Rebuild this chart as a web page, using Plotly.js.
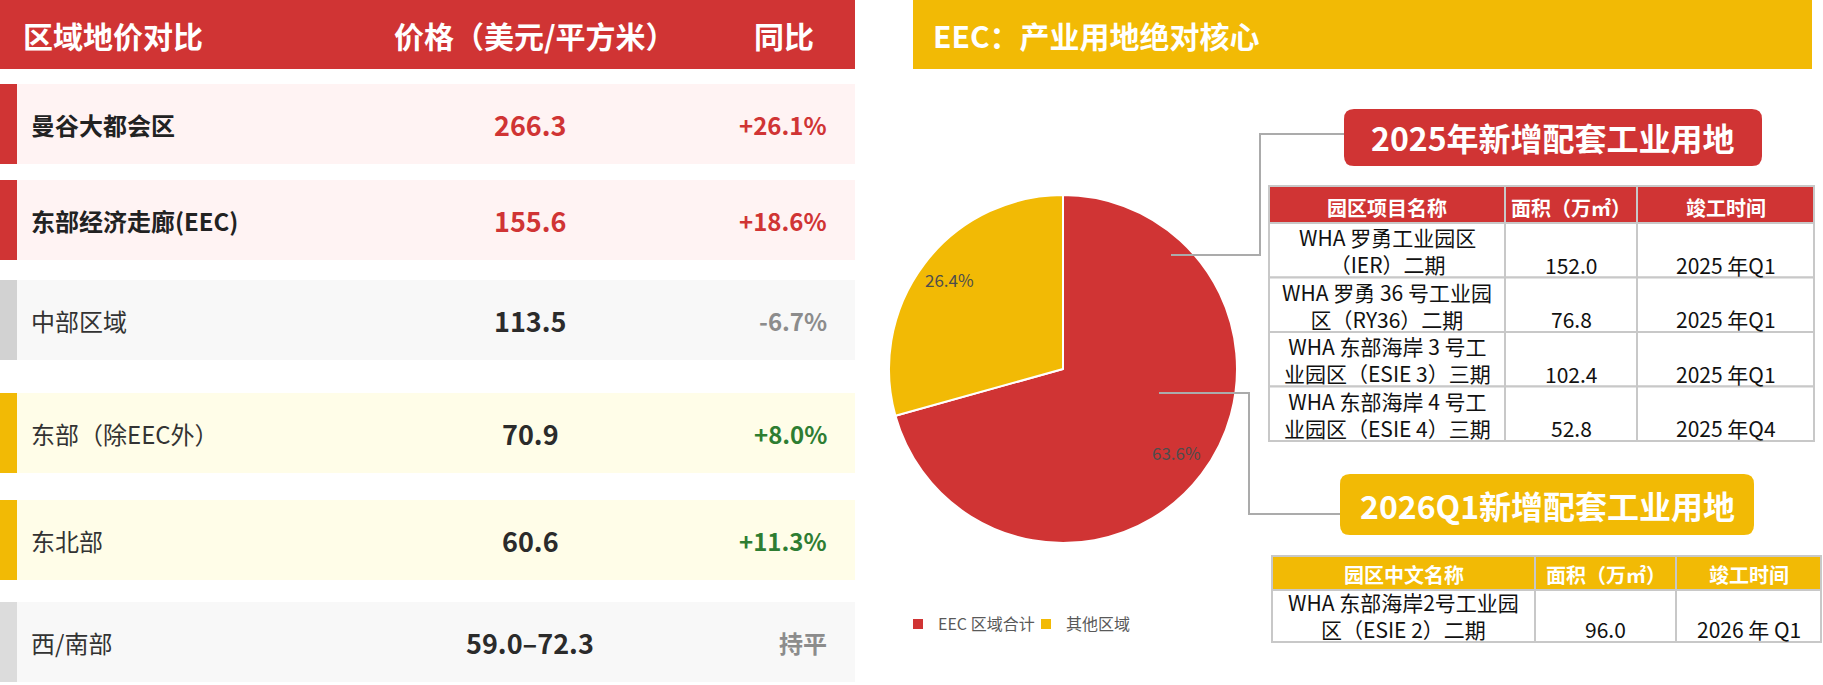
<!DOCTYPE html>
<html>
<head>
<meta charset="utf-8">
<script src="https://cdn.plot.ly/plotly-3.0.1.min.js"></script>
<style>html,body{margin:0;padding:0;background:#fff;}#chart{width:1823px;height:685px;}</style>
</head>
<body>
<div id="chart"></div>
<script>
// ---------------- DATA ----------------
const leftTitle = '区域地价对比';
const priceHeader = '价格（美元/平方米）';
const yoyHeader = '同比';
const regions = ['曼谷大都会区', '东部经济走廊(EEC)', '中部区域', '东部（除EEC外）', '东北部', '西/南部'];
const prices = ['266.3', '155.6', '113.5', '70.9', '60.6', '59.0–72.3'];
const yoyChanges = ['+26.1%', '+18.6%', '-6.7%', '+8.0%', '+11.3%', '持平'];

const rightTitle = 'EEC：产业用地绝对核心';
const pieLabels = ['EEC 区域合计', '其他区域'];
const pieValues = [63.6, 26.4];

const callout2025 = '2025年新增配套工业用地';
const header2025 = ['园区项目名称', '面积（万㎡）', '竣工时间'];
const parks2025 = ['WHA 罗勇工业园区<br>（IER）二期', 'WHA 罗勇 36 号工业园<br>区（RY36）二期', 'WHA 东部海岸 3 号工<br>业园区（ESIE 3）三期', 'WHA 东部海岸 4 号工<br>业园区（ESIE 4）三期'];
const areas2025 = ['152.0', '76.8', '102.4', '52.8'];
const done2025 = ['2025 年Q1', '2025 年Q1', '2025 年Q1', '2025 年Q4'];

const callout2026 = '2026Q1新增配套工业用地';
const header2026 = ['园区中文名称', '面积（万㎡）', '竣工时间'];
const parks2026 = ['WHA 东部海岸2号工业园<br>区（ESIE 2）二期'];
const areas2026 = ['96.0'];
const done2026 = ['2026 年 Q1'];

// ---------------- STYLE / LAYOUT ----------------
const W = 1823, H = 685;
const FONT = '"Noto Sans CJK SC", "Noto Sans", sans-serif';
const RED = '#D03434', YEL = '#F2BA05', GRID = '#C8C8C8', CONN = '#ABABAB';
const rowStyles = [
  {bar: RED, bg: '#FFF3F3', bold: true, price: RED, yoy: RED},
  {bar: RED, bg: '#FFF3F3', bold: true, price: RED, yoy: RED},
  {bar: '#D2D2D2', bg: '#F8F8F8', bold: false, price: '#2b2b2b', yoy: '#8C8C8C'},
  {bar: YEL, bg: '#FFFDE8', bold: false, price: '#2b2b2b', yoy: '#2E7D32'},
  {bar: YEL, bg: '#FFFDE8', bold: false, price: '#2b2b2b', yoy: '#2E7D32'},
  {bar: '#DCDCDC', bg: '#F8F8F8', bold: false, price: '#2b2b2b', yoy: '#8C8C8C'}
];
const rowTops = [84, 180, 280, 393, 500, 602];
const rowH = 80;

const shapes = [];
const annotations = [];

function rect(x0, y0, x1, y1, fill, line) {
  shapes.push({type: 'rect', xref: 'x', yref: 'y', x0, y0, x1, y1, fillcolor: fill,
    line: line || {width: 0}, layer: 'above'});
}
function rrect(x0, y0, x1, y1, r, fill) {
  const p = `M${x0 + r},${y0} H${x1 - r} Q${x1},${y0} ${x1},${y0 + r} V${y1 - r} Q${x1},${y1} ${x1 - r},${y1} H${x0 + r} Q${x0},${y1} ${x0},${y1 - r} V${y0 + r} Q${x0},${y0} ${x0 + r},${y0} Z`;
  shapes.push({type: 'path', xref: 'x', yref: 'y', path: p, fillcolor: fill, line: {width: 0}, layer: 'above'});
}
function polyline(pts, color, width) {
  const p = 'M' + pts.map(q => q[0] + ',' + q[1]).join(' L');
  shapes.push({type: 'path', xref: 'x', yref: 'y', path: p, line: {color, width}, layer: 'above'});
}
function ann(text, x, y, xanchor, size, color, weight) {
  annotations.push({text, x, y, xref: 'x', yref: 'y', showarrow: false, xanchor, yanchor: 'middle',
    borderpad: 0, font: {family: FONT, size, color, weight: weight || 400}});
}

// ---- left panel ----
rect(0, 0, 855, 69, RED);
ann(leftTitle, 22, 35, 'left', 30, '#fff', 700);
ann(priceHeader, 535, 35, 'center', 30, '#fff', 700);
ann(yoyHeader, 784, 35, 'center', 30, '#fff', 700);

regions.forEach((name, i) => {
  const s = rowStyles[i];
  const t = rowTops[i], b = t + rowH, c = (t + b) / 2;
  rect(0, t, 855, b, s.bg);
  rect(0, t, 17, b, s.bar);
  ann(name, 30, c, 'left', 24, s.bold ? '#222' : '#333', s.bold ? 700 : 400);
  ann(prices[i], 530, c, 'center', 27, s.price, 700);
  ann(yoyChanges[i], 828, c, 'right', 24, s.yoy, 700);
});

// ---- right panel ----
rect(913, 0, 1812, 69, YEL);
ann(rightTitle, 932, 35, 'left', 30, '#fff', 700);

// callouts & connectors
polyline([[1171, 255], [1260, 255], [1260, 134], [1344, 134]], CONN, 2);
rrect(1344, 109, 1762, 166, 10, RED);
ann(callout2025, 1553, 137, 'center', 32, '#fff', 700);

polyline([[1159, 393], [1249, 393], [1249, 514], [1340, 514]], CONN, 2);
rrect(1340, 474, 1754, 535, 10, YEL);
ann(callout2026, 1547, 505, 'center', 32, '#fff', 700);

function drawTable(xs, y0, headH, rowHt, headers, cols, headFill) {
  const gl = {color: GRID, width: 2};
  for (let j = 0; j < 3; j++) {
    rect(xs[j], y0, xs[j + 1], y0 + headH, headFill, gl);
    ann(headers[j], (xs[j] + xs[j + 1]) / 2, y0 + headH - 16, 'center', 20, '#fff', 700);
  }
  const n = cols[0].length;
  const lineGap = 21 * 1.3;
  for (let i = 0; i < n; i++) {
    const t = y0 + headH + i * rowHt, b = t + rowHt;
    for (let j = 0; j < 3; j++) {
      rect(xs[j], t, xs[j + 1], b, '#fff', gl);
      const txt = String(cols[j][i]);
      const nLines = txt.split('<br>').length;
      const cxm = (xs[j] + xs[j + 1]) / 2;
      ann(txt, cxm, b - 13 - (nLines - 1) * lineGap / 2, 'center', 21, '#111', 400);
    }
  }
}
drawTable([1269, 1505, 1637, 1814], 186, 37, 54.5, header2025, [parks2025, areas2025, done2025], RED);
drawTable([1272, 1535, 1676, 1821], 556, 34, 52, header2026, [parks2026, areas2026, done2026], YEL);

// ---- pie ----
const cx = 1063, cy = 369, R = 174;
const total = pieValues.reduce((a, b) => a + b, 0);
let cum = 0;
pieValues.forEach(v => {
  const f = (cum + v / 2) / total;
  cum += v;
  const th = 2 * Math.PI * f;
  const r = 0.82 * R;
  ann(v.toFixed(1) + '%', cx + r * Math.sin(th), cy - r * Math.cos(th) - 3, 'center', 17, '#4d4d4d', 400);
});

const traces = [
  {type: 'scatter', x: [], y: [], xaxis: 'x', yaxis: 'y', showlegend: false, hoverinfo: 'skip'},
  {
    type: 'pie', labels: pieLabels, values: pieValues, sort: false, direction: 'clockwise', rotation: 0,
    marker: {colors: [RED, YEL], line: {color: '#fff', width: 2}},
    textinfo: 'none',
    domain: {x: [(cx - R) / W, (cx + R) / W], y: [1 - (cy + R) / H, 1 - (cy - R) / H]},
    hoverinfo: 'label+value'
  }
];

const layout = {
  width: W, height: H, margin: {l: 0, r: 0, t: 0, b: 0},
  paper_bgcolor: '#fff', plot_bgcolor: 'rgba(0,0,0,0)',
  xaxis: {range: [0, W], visible: false, fixedrange: true, domain: [0, 1]},
  yaxis: {range: [H, 0], visible: false, fixedrange: true, domain: [0, 1]},
  showlegend: true,
  legend: {orientation: 'h', x: 898 / W, y: 1 - 624 / H, xanchor: 'left', yanchor: 'middle',
    font: {family: FONT, size: 16, color: '#595959'}, bgcolor: 'rgba(0,0,0,0)', itemwidth: 30,
    entrywidth: 83},
  shapes, annotations
};

Plotly.newPlot('chart', traces, layout, {displayModeBar: false, staticPlot: true});
</script>
</body>
</html>
